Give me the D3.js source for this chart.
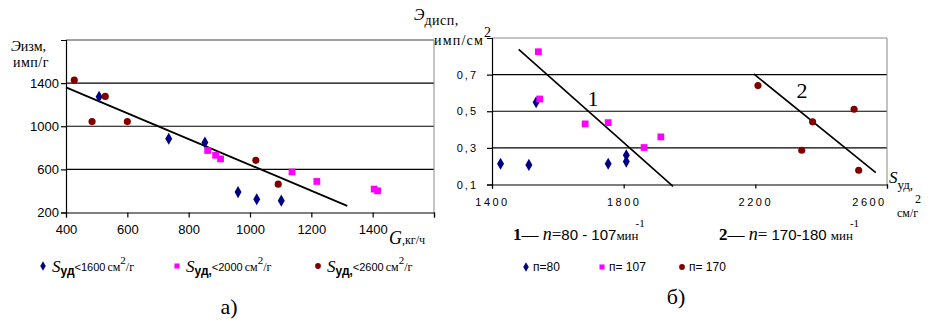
<!DOCTYPE html>
<html>
<head>
<meta charset="utf-8">
<script src="https://cdn.jsdelivr.net/npm/d3@7"></script>
<style>
body { margin: 0; background: #fff; }
svg { display: block; }
.sans { font-family: "Liberation Sans", Arial, sans-serif; }
.serif { font-family: "Liberation Serif", "Times New Roman", serif; }
</style>
</head>
<body>
<svg id="chart" width="939" height="320"></svg>
<script>
// chart a) : G (кг/ч) vs Эизм
var aBlueG = [508, 735, 853, 961, 1022, 1102];
var aBlueE = [1273, 884, 850, 389, 323, 310];
var aPinkG = [862, 888, 904, 1137, 1218, 1405, 1416];
var aPinkE = [775, 731, 697, 576, 488, 417, 401];
var aRedG = [427, 485, 528, 600, 1019, 1092];
var aRedE = [1429, 1043, 1277, 1043, 684, 463];
var aTrendG = [400, 1317];
var aTrendE = [1360, 262];
var aXTicks = [400, 600, 800, 1000, 1200, 1400];
var aYTicks = [200, 600, 1000, 1400];

// chart б) : Sуд vs Эдисп
var bBlueS = [1426, 1512, 1534, 1753, 1808, 1808];
var bBlueE = [0.213, 0.207, 0.549, 0.213, 0.26, 0.225];
var bPinkS = [1541, 1545, 1683, 1753, 1862, 1913];
var bPinkE = [0.825, 0.567, 0.431, 0.438, 0.302, 0.36];
var bRedS = [2208, 2341, 2374, 2500, 2514];
var bRedE = [0.64, 0.287, 0.442, 0.511, 0.178];
var bLine1S = [1481, 1950];
var bLine1E = [0.838, 0.09];
var bLine2S = [2195, 2566];
var bLine2E = [0.704, 0.165];
var bXTicks = [1400, 1800, 2200, 2600];
var bYTicks = [0.1, 0.3, 0.5, 0.7];

var navy = '#000080', pink = '#ff00ff', maroon = '#800000';

var svg = d3.select('#chart');

function zip(xs, ys) {
  return xs.map(function(x, i) { return [x, ys[i]]; });
}

function drawMarks(g, x, y, pts, kind) {
  var sel = g.append('g').selectAll('path').data(pts).enter().append('path')
    .attr('transform', function(d) { return 'translate(' + x(d[0]) + ',' + y(d[1]) + ')'; });
  if (kind == 'diamond') sel.attr('d', d3.symbol().type(d3.symbolDiamond).size(42)).attr('fill', navy);
  if (kind == 'square') sel.attr('d', d3.symbol().type(d3.symbolSquare).size(46)).attr('fill', pink);
  if (kind == 'circle') sel.attr('d', d3.symbol().type(d3.symbolCircle).size(40)).attr('fill', maroon);
}

function legendMark(x, y, kind) {
  var sym = kind == 'diamond' ? d3.symbolDiamond : (kind == 'square' ? d3.symbolSquare : d3.symbolCircle);
  var col = kind == 'diamond' ? navy : (kind == 'square' ? pink : maroon);
  svg.append('path').attr('d', d3.symbol().type(sym).size(26)).attr('fill', col)
    .attr('transform', 'translate(' + x + ',' + y + ')');
}

// ---------- a) ----------
var ax = d3.scaleLinear().domain([400, 1600]).range([66, 434]);
var ay = d3.scaleLinear().domain([200, 1800]).range([212.5, 40]);
var ga = svg.append('g');

ga.append('g').selectAll('line').data(aYTicks.slice(1)).enter().append('line')
  .attr('x1', ax(400)).attr('x2', ax(1600))
  .attr('y1', function(d) { return ay(d); }).attr('y2', function(d) { return ay(d); })
  .attr('stroke', '#000').attr('stroke-width', 1.2);
ga.append('line').attr('x1', ax(400)).attr('x2', ax(1600)).attr('y1', ay(1800)).attr('y2', ay(1800))
  .attr('stroke', '#444').attr('stroke-width', 1.2);
ga.append('line').attr('x1', ax(1600)).attr('x2', ax(1600)).attr('y1', ay(1800)).attr('y2', ay(200))
  .attr('stroke', '#888');

var aXAxis = d3.axisBottom(ax).tickValues(aXTicks.concat([1600])).tickSize(5)
  .tickFormat(function(d) { return d == 1600 ? '' : d3.format('d')(d); });
ga.append('g').attr('transform', 'translate(0,' + ay(200) + ')').call(aXAxis)
  .call(function(g) { g.selectAll('text').attr('class', 'sans').attr('font-size', 13).attr('dy', '1.0em'); });
var aYAxis = d3.axisLeft(ay).tickValues(aYTicks).tickSize(5).tickFormat(d3.format('d'));
ga.append('g').attr('transform', 'translate(' + ax(400) + ',0)').call(aYAxis)
  .call(function(g) { g.selectAll('text').attr('class', 'sans').attr('font-size', 13).attr('x', -7); });
ga.selectAll('.domain, .tick line').attr('stroke', '#000').attr('stroke-width', 1.2);

ga.append('path').datum(zip(aTrendG, aTrendE))
  .attr('d', d3.line().x(function(d) { return ax(d[0]); }).y(function(d) { return ay(d[1]); }))
  .attr('stroke', '#000').attr('stroke-width', 1.8).attr('fill', 'none');

drawMarks(ga, ax, ay, zip(aBlueG, aBlueE), 'diamond');
drawMarks(ga, ax, ay, zip(aPinkG, aPinkE), 'square');
drawMarks(ga, ax, ay, zip(aRedG, aRedE), 'circle');

var t = svg.append('text').attr('class', 'serif').attr('x', 11).attr('y', 51).attr('font-size', 15);
t.append('tspan').attr('font-style', 'italic').text('Э');
t.append('tspan').attr('font-size', 14).text('изм,');
svg.append('text').attr('class', 'serif').attr('x', 13).attr('y', 67).attr('font-size', 14)
  .attr('letter-spacing', 0.5).text('имп/г');
t = svg.append('text').attr('class', 'serif').attr('x', 389).attr('y', 244);
t.append('tspan').attr('font-style', 'italic').attr('font-size', 18).text('G');
t.append('tspan').attr('font-size', 12).text(',кг/ч');

function aLegend(x, kind, sub, num) {
  legendMark(x, 266, kind);
  var s = svg.append('text').attr('class', 'serif').attr('x', x + 9).attr('y', 272);
  s.append('tspan').attr('font-style', 'italic').attr('font-size', 17).text('S');
  s.append('tspan').attr('class', 'sans').attr('font-weight', 'bold').attr('font-size', 12).attr('dy', 3).text(sub);
  s.append('tspan').attr('class', 'sans').attr('font-size', 11).attr('dy', -4).text('<' + num);
  s.append('tspan').attr('font-size', 12).attr('dx', 2).text('см');
  s.append('tspan').attr('font-size', 11).attr('dy', -7).text('2');
  s.append('tspan').attr('font-size', 12).attr('dy', 7).text('/г');
}
aLegend(43, 'diamond', 'уд', '1600');
aLegend(177, 'square', 'уд,', '2000');
aLegend(318, 'circle', 'уд,', '2600');

svg.append('text').attr('class', 'serif').attr('x', 229).attr('y', 314).attr('font-size', 22)
  .attr('text-anchor', 'middle').text('а)');

// ---------- б) ----------
var bx = d3.scaleLinear().domain([1400, 2600]).range([492, 887]);
var by = d3.scaleLinear().domain([0.1, 0.9]).range([184.5, 38]);
var gb = svg.append('g');

gb.append('g').selectAll('line').data(bYTicks.slice(1)).enter().append('line')
  .attr('x1', bx(1400)).attr('x2', bx(2600))
  .attr('y1', function(d) { return by(d); }).attr('y2', function(d) { return by(d); })
  .attr('stroke', '#000').attr('stroke-width', 1.2);
gb.append('line').attr('x1', bx(1400)).attr('x2', bx(2600)).attr('y1', by(0.9)).attr('y2', by(0.9))
  .attr('stroke', '#888');
gb.append('line').attr('x1', bx(2600)).attr('x2', bx(2600)).attr('y1', by(0.9)).attr('y2', by(0.1))
  .attr('stroke', '#888');

var bXAxis = d3.axisBottom(bx).tickValues(bXTicks).tickSize(4).tickFormat(d3.format('d'));
gb.append('g').attr('transform', 'translate(0,' + by(0.1) + ')').call(bXAxis)
  .call(function(g) {
    g.selectAll('text').attr('class', 'sans').attr('font-size', 11).attr('letter-spacing', 2.5).attr('dy', '1.3em');
    g.selectAll('.tick:last-of-type text').attr('dx', -18);
  });
var bYAxis = d3.axisLeft(by).tickValues(bYTicks).tickSize(5).tickFormat(function(d) { return d3.format('.1f')(d).replace('.', ','); });
gb.append('g').attr('transform', 'translate(' + bx(1400) + ',0)').call(bYAxis)
  .call(function(g) { g.selectAll('text').attr('class', 'sans').attr('font-size', 11).attr('letter-spacing', 2).attr('x', -14); });
gb.selectAll('.domain, .tick line').attr('stroke', '#000').attr('stroke-width', 1.2);

var bl = d3.line().x(function(d) { return bx(d[0]); }).y(function(d) { return by(d[1]); });
gb.append('path').datum(zip(bLine1S, bLine1E)).attr('d', bl).attr('stroke', '#000').attr('stroke-width', 1.6).attr('fill', 'none');
gb.append('path').datum(zip(bLine2S, bLine2E)).attr('d', bl).attr('stroke', '#000').attr('stroke-width', 1.6).attr('fill', 'none');

drawMarks(gb, bx, by, zip(bBlueS, bBlueE), 'diamond');
drawMarks(gb, bx, by, zip(bPinkS, bPinkE), 'square');
drawMarks(gb, bx, by, zip(bRedS, bRedE), 'circle');

gb.append('text').attr('class', 'serif').attr('font-size', 22).attr('x', bx(1690)).attr('y', by(0.53)).text('1');
gb.append('text').attr('class', 'serif').attr('font-size', 22).attr('x', bx(2325)).attr('y', by(0.57)).text('2');

t = svg.append('text').attr('class', 'serif').attr('x', 414).attr('y', 20);
t.append('tspan').attr('font-style', 'italic').attr('font-size', 16).text('Э');
t.append('tspan').attr('font-size', 14).attr('dy', 5).attr('letter-spacing', 0.5).text('дисп,');
t = svg.append('text').attr('class', 'serif').attr('x', 434).attr('y', 45).attr('font-size', 14).attr('letter-spacing', 1.2);
t.append('tspan').text('имп/см');
t.append('tspan').attr('dy', -8).text('2');

t = svg.append('text').attr('class', 'serif').attr('x', 889).attr('y', 183);
t.append('tspan').attr('font-style', 'italic').attr('font-size', 17).text('S');
t.append('tspan').attr('font-size', 13).attr('dy', 6).text('уд,');
svg.append('text').attr('class', 'serif').attr('x', 915).attr('y', 203).attr('font-size', 12).text('2');
svg.append('text').attr('class', 'serif').attr('x', 897).attr('y', 217).attr('font-size', 12).text('см/г');

function bFormula(x, num, txt) {
  var s = svg.append('text').attr('class', 'serif').attr('x', x).attr('y', 240);
  s.append('tspan').attr('font-weight', 'bold').attr('font-size', 17).text(num);
  s.append('tspan').attr('font-size', 17).text('— ');
  s.append('tspan').attr('font-style', 'italic').attr('font-size', 18).text('n');
  s.append('tspan').attr('font-size', 17).text('=');
  s.append('tspan').attr('class', 'sans').attr('font-size', 15).text(txt);
  s.append('tspan').attr('font-size', 13).text('мин');
  s.append('tspan').attr('font-size', 11).attr('dx', -3).attr('dy', -13).text('-1');
}
bFormula(513, '1', '80 - 107');
bFormula(719, '2', ' 170-180 ');

function bLegend(x, kind, label) {
  legendMark(x, 267, kind);
  svg.append('text').attr('class', 'sans').attr('font-size', 12).attr('x', x + 7).attr('y', 271).text(label);
}
bLegend(526, 'diamond', 'п=80');
bLegend(602, 'square', 'п= 107');
bLegend(682, 'circle', 'п= 170');

svg.append('text').attr('class', 'serif').attr('x', 676).attr('y', 304).attr('font-size', 22)
  .attr('text-anchor', 'middle').text('б)');
</script>
</body>
</html>
